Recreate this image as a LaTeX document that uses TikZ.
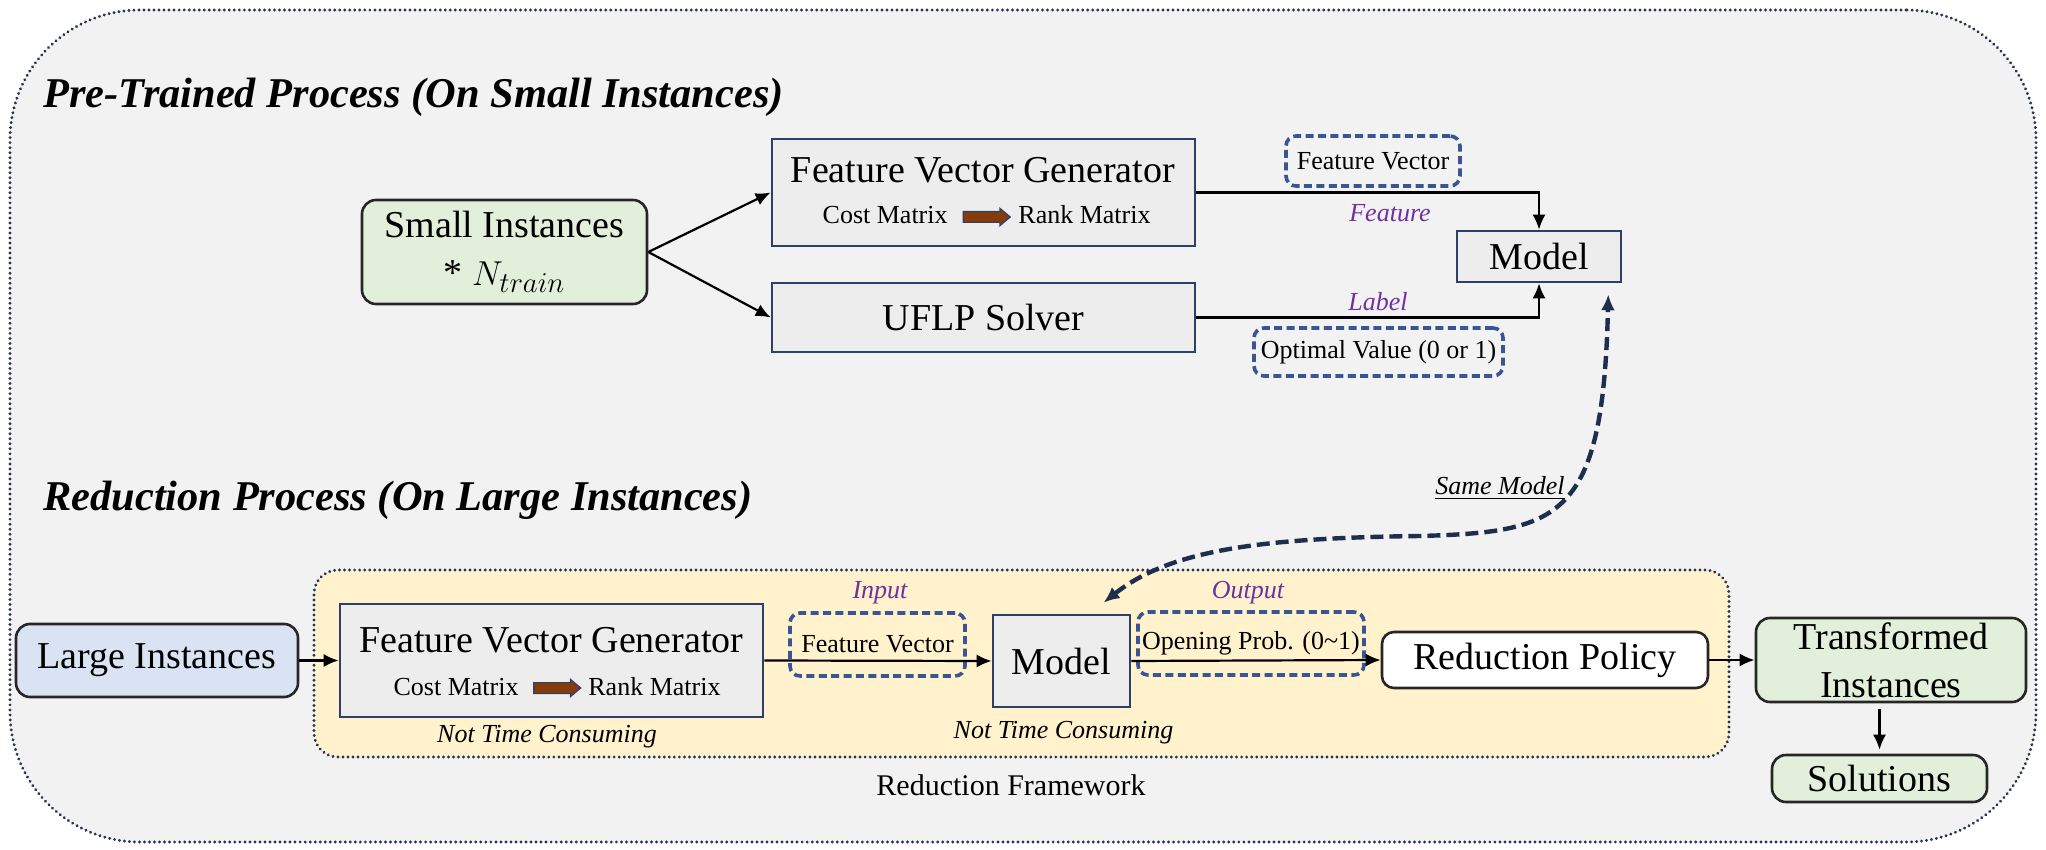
\documentclass[tikz,border=0pt]{standalone}
\usepackage{fontspec}
\setmainfont{Liberation Serif}
\usetikzlibrary{arrows.meta,shapes.arrows,calc}
\definecolor{bgGray}{HTML}{F2F2F2}
\definecolor{dotNavy}{HTML}{28344F}
\definecolor{boxGray}{HTML}{EDEDED}
\definecolor{boxBorder}{HTML}{2F3F66}
\definecolor{greenFill}{HTML}{E2EFDA}
\definecolor{blueFill}{HTML}{DAE3F3}
\definecolor{yellowFill}{HTML}{FFF2CC}
\definecolor{dashBlue}{HTML}{3A5593}
\definecolor{purpleLbl}{HTML}{7030A0}
\definecolor{brownArr}{HTML}{843C0C}
\definecolor{curveNavy}{HTML}{1F2D4F}
\newcommand\fBig{\fontsize{19pt}{24pt}\selectfont}
\newcommand\fSmall{\fontsize{13pt}{16pt}\selectfont}
\newcommand\fMid{\fontsize{15pt}{18pt}\selectfont}
\newcommand\fTitle{\fontsize{21.2pt}{25pt}\selectfont}
\tikzset{
  sz/.style 2 args={minimum width=#1*0.5pt, minimum height=#2*0.5pt},
  dotborder/.style={draw=dotNavy, line width=1.6pt, dash pattern=on 0.01pt off 2.5pt, line cap=round},
  gbox/.style={draw=boxBorder, line width=1.3pt, fill=boxGray, inner sep=0},
  rbox/.style={draw=black!85, line width=1.3pt, rounded corners=7pt, inner sep=0},
  dbox/.style={draw=dashBlue, line width=1.8pt, dash pattern=on 4pt off 2.2pt, rounded corners=5pt, inner sep=0},
  txt/.style={inner sep=0},
  lbl/.style={inner sep=0, text=purpleLbl, font=\fSmall\itshape},
  conn/.style={draw=black, line width=1.1pt, -{Latex[length=7.5pt,width=6.5pt]}},
  samemodel/.style={draw=curveNavy, line width=2.2pt, dash pattern=on 6.5pt off 3pt,
    {Latex[length=8pt,width=7pt]}-{Latex[length=8pt,width=7pt]}},
  blockarrow/.style={single arrow, draw=boxBorder, line width=0.6pt, fill=brownArr,
    minimum height=23.5pt, single arrow head extend=1.6pt, inner sep=2.4pt,
    single arrow tip angle=80}
}
\begin{document}
\begin{tikzpicture}[x=0.5pt,y=-0.5pt]
\useasboundingbox (0,0) rectangle (2046,850);
\fill[white] (0,0) rectangle (2046,850);
% outer frame
\node[dotborder, fill=bgGray, rounded corners=65pt, sz={2026}{832}] (outer) at (1023,426) {};
% titles
\node[txt, anchor=base west, font=\fTitle\bfseries\itshape] (t1) at (43,108) {Pre-Trained Process (On Small Instances)};
\node[txt, anchor=base west, font=\fTitle\bfseries\itshape] (t2) at (43,510) {Reduction Process (On Large Instances)};
% ---------- upper part ----------
\node[rbox, fill=greenFill, sz={285}{104}, font=\fBig, align=center] (small) at (504.5,252) {Small Instances\\* $N_{train}$};
\node[gbox, sz={423}{107}] (fvg1) at (983.5,192.5) {};
\node[txt, anchor=base, font=\fBig] (fvg1t) at (983,183) {Feature Vector Generator};
\node[blockarrow] (arr1) at (983.5,217) {};
\node[txt, anchor=base east, font=\fSmall] (cost1) at (948,224) {Cost Matrix};
\node[txt, anchor=base west, font=\fSmall] (rank1) at (1018,224) {Rank Matrix};
\node[gbox, sz={423}{69}, font=\fBig] (uflp) at (983.5,317.5) {UFLP Solver};
\node[dbox, sz={174}{50}, font=\fSmall] (fv1) at (1373,161) {Feature Vector};
\node[gbox, sz={164}{51}, font=\fBig] (model1) at (1539,256.5) {Model};
\node[lbl] (featl) at (1390,213) {Feature};
\node[lbl] (labl) at (1378,302) {Label};
\node[dbox, sz={249}{48}, font=\fSmall] (opt) at (1378.5,352) {Optimal Value (0 or 1)};
\draw[conn] (small.east) -- (fvg1.west);
\draw[conn] (small.east) -- (uflp.west);
\draw[conn] (fvg1.east) -| (model1.north);
\draw[conn] (uflp.east) -| (model1.south);
% ---------- lower part ----------
\node[dotborder, fill=yellowFill, rounded corners=12pt, sz={1415}{187}] (frame) at (1021.5,663.5) {};
\node[txt, anchor=base, font=\fMid] (framel) at (1011,795) {Reduction Framework};
\node[rbox, fill=blueFill, sz={282}{73}, font=\fBig] (large) at (157,660.5) {Large Instances};
\node[gbox, sz={423}{113}] (fvg2) at (551.5,660.5) {};
\node[txt, anchor=base, font=\fBig] (fvg2t) at (551.5,652) {Feature Vector Generator};
\node[blockarrow] (arr2) at (554,688) {};
\node[txt, anchor=base east, font=\fSmall] (cost2) at (519,695) {Cost Matrix};
\node[txt, anchor=base west, font=\fSmall] (rank2) at (588,695) {Rank Matrix};
\node[txt, anchor=base, font=\fSmall\itshape] (ntc1) at (547,742) {Not Time Consuming};
\node[dbox, sz={175}{63}, font=\fSmall] (fv2) at (877.5,644.5) {Feature Vector};
\node[lbl] (inl) at (880,593) {Input};
\node[gbox, sz={137}{92}, font=\fBig] (model2) at (1061.5,661) {Model};
\node[txt, anchor=base, font=\fSmall\itshape] (ntc2) at (1063.5,738) {Not Time Consuming};
\node[dbox, sz={226}{63}, font=\fSmall] (open) at (1251,643.5) {Opening Prob. (0\textasciitilde 1)};
\node[lbl] (outl) at (1248,593) {Output};
\node[rbox, fill=white, rounded corners=6pt, sz={326}{56}, font=\fBig] (redpol) at (1545,660) {Reduction Policy};
\node[rbox, fill=greenFill, sz={270}{84}, font=\fBig, align=center] (trans) at (1891,660) {Transformed\\Instances};
\node[rbox, fill=greenFill, sz={215}{47}, font=\fBig] (sol) at (1879.5,778.5) {Solutions};
\draw[conn] (large.east) -- (fvg2.west);
\draw[conn] (fvg2.east) -- (model2.west);
\draw[conn] (model2.east) -- (redpol.west);
\draw[conn] (redpol.east) -- (trans.west);
\draw[conn, shorten <=3pt, shorten >=2pt] (sol.north |- trans.south) -- (sol.north);
% same model curve
\draw[samemodel] ($(model2.north)+(42,-11)$) .. controls (1170,550) and (1260,538) .. (1420,536)
  .. controls (1560,532) and (1603,520) .. ($(model1.south east)+(-14,11)$);
\node[txt, font=\fSmall\itshape] (samel) at (1500,488) {\underline{Same Model}};
\end{tikzpicture}
\end{document}
